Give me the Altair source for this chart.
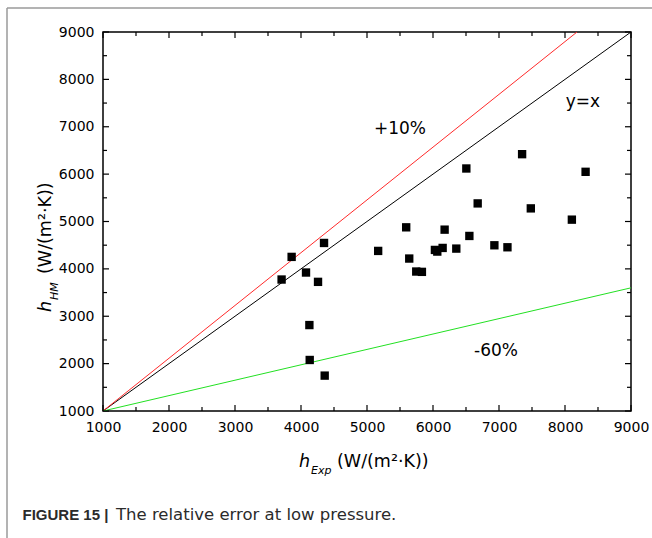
import altair as alt
import pandas as pd

# ---- data ----
h_exp = [3706, 3858, 4076, 4258, 4349, 4127, 4132, 4359, 5169, 5594, 5640, 5746, 5832, 6029,
         6065, 6146, 6176, 6353, 6505, 6551, 6677, 6930, 7128, 7350, 7482, 8104, 8312]
h_hm = [3775, 4253, 3923, 3726, 4547, 2814, 2077, 1747, 4379, 4877, 4218, 3944, 3937, 4400,
        4365, 4442, 4828, 4428, 6119, 4695, 5382, 4498, 4456, 6421, 5277, 5039, 6049]

ref_names = ["y=x", "+10%", "-60%"]
ref_x = [[1000, 9000], [1000, 8182], [1000, 9000]]
ref_y = [[1000, 9000], [1000, 9000], [1000, 3600]]
ref_colors = ["#000000", "#ff2a2a", "#22e022"]

label_text = ["+10%", "y=x", "-60%"]
label_x = [5500, 8270, 6955]
label_y = [6950, 7520, 2262]

major_ticks = [1000, 2000, 3000, 4000, 5000, 6000, 7000, 8000, 9000]
minor_ticks = [1500, 2500, 3500, 4500, 5500, 6500, 7500, 8500]

# ---- layout ----
W, H = 528, 379
FONT = "DejaVu Sans"

xs = alt.Scale(domain=[1000, 9000], nice=False, zero=False)
ys = alt.Scale(domain=[1000, 9000], nice=False, zero=False)
common_axis = dict(values=major_ticks, format="d", ticks=False, tickSize=0, domain=False, grid=False,
                   labelFont=FONT, labelFontSize=14, labelColor="black", labelPadding=9,
                   labelFlush=False, labelOverlap=False, labelBound=False, title=None)
xaxis = alt.Axis(**common_axis)
yaxis = alt.Axis(**common_axis)
xenc = alt.X("x:Q", scale=xs, axis=xaxis)
yenc = alt.Y("y:Q", scale=ys, axis=yaxis)

pts = pd.DataFrame({"x": h_exp, "y": h_hm})
rows = []
for n, xx, yy in zip(ref_names, ref_x, ref_y):
    for a, b in zip(xx, yy):
        rows.append({"name": n, "x": a, "y": b})
lines_df = pd.DataFrame(rows)
ann = pd.DataFrame({"x": label_x, "y": label_y, "t": label_text})
xmaj = pd.DataFrame({"x": major_ticks})
xmin = pd.DataFrame({"x": minor_ticks})
ymaj = pd.DataFrame({"y": major_ticks})
ymin = pd.DataFrame({"y": minor_ticks})
one = pd.DataFrame({"d": [0]})

lines = alt.Chart(lines_df).mark_line(strokeWidth=1, clip=True).encode(
    x=xenc, y=yenc, detail="name:N",
    color=alt.Color("name:N", scale=alt.Scale(domain=ref_names, range=ref_colors), legend=None))

points = alt.Chart(pts).mark_square(size=70, color="black", opacity=1).encode(x=xenc, y=yenc)

annots = alt.Chart(ann).mark_text(font=FONT, fontSize=17, color="black", align="center",
                                  baseline="middle").encode(x=xenc, y=yenc, text="t:N")

def xticks(df, ln):
    b = alt.Chart(df).mark_rule(color="black", strokeWidth=1.2).encode(
        x=xenc, y=alt.value(H), y2=alt.value(H - ln))
    t = alt.Chart(df).mark_rule(color="black", strokeWidth=1.2).encode(
        x=xenc, y=alt.value(0), y2=alt.value(ln))
    return [b, t]

def yticks(df, ln):
    l = alt.Chart(df).mark_rule(color="black", strokeWidth=1.2).encode(
        y=yenc, x=alt.value(0), x2=alt.value(ln))
    r = alt.Chart(df).mark_rule(color="black", strokeWidth=1.2).encode(
        y=yenc, x=alt.value(W), x2=alt.value(W - ln))
    return [l, r]

ticks = xticks(xmaj, 6) + xticks(xmin, 4) + yticks(ymaj, 6) + yticks(ymin, 4)

def txt(text, x, y, size, style="normal", weight="normal", angle=0, font=FONT, color="black"):
    kw = dict(text=text, font=font, fontSize=size, fontStyle=style, fontWeight=weight,
              align="left", baseline="alphabetic", color=color)
    if angle:
        kw["angle"] = angle
    return alt.Chart(one).mark_text(**kw).encode(x=alt.value(x), y=alt.value(y))

titles = [
    txt("h", 196, 435, 17.5, style="italic"),
    txt("Exp", 208, 442, 11, style="italic"),
    txt("(W/(m²·K))", 234, 435, 17.5),
    txt("h", -52, 280, 17.5, style="italic", angle=270),
    txt("HM", -45, 268, 11, style="italic", angle=270),
    txt("(W/(m²·K))", -52, 242, 17.5, angle=270),
    txt("FIGURE 15 |", -80.5, 488, 15, weight="bold", font="Liberation Sans", color="#2b2b2b"),
    txt("The relative error at low pressure.", 13, 488, 16.5, color="#2b2b2b"),
]

frame_top = alt.Chart(one).mark_rule(color="#9a9a9a", strokeWidth=1.5).encode(
    x=alt.value(-96), x2=alt.value(560), y=alt.value(-24))
frame_left = alt.Chart(one).mark_rule(color="#9a9a9a", strokeWidth=1.5).encode(
    x=alt.value(-96), y=alt.value(-24), y2=alt.value(520))

chart = alt.layer(
    frame_top, frame_left, lines, *ticks, points, annots, *titles
).properties(
    width=W, height=H,
    autosize=alt.AutoSizeParams(type="none"),
    padding={"left": 103, "top": 32, "right": 21, "bottom": 127},
    background="white",
).configure_view(stroke="black", strokeWidth=1.5)

chart.save("out.html", embed_options={"renderer": "svg", "actions": False})
